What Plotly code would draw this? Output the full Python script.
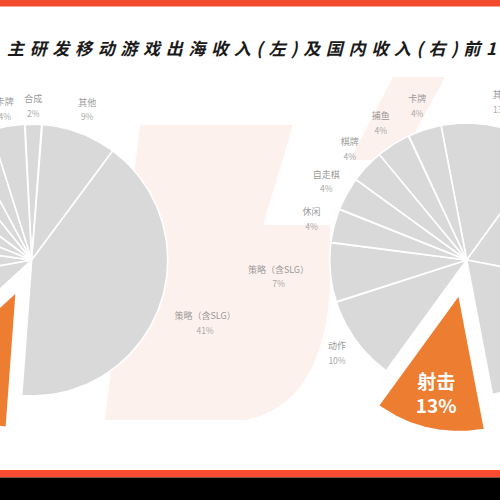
import numpy as np
import plotly.graph_objects as go

# ---------------- data ----------------
# Left pie: overseas revenue share by genre, clockwise from 12 o'clock
left_genres = ["合成", "其他", "策略（含SLG）", "射击", "角色扮演", "MOBA",
               "动作", "休闲", "模拟", "体育", "竞速", "卡牌"]
left_share = [2, 9, 41, 12, 9, 5, 4, 4, 4, 3, 3, 4]

# Right pie: domestic revenue share by genre, clockwise from 12 o'clock
right_genres = ["其他", "MOBA", "角色扮演", "射击", "动作", "策略（含SLG）",
                "休闲", "自走棋", "棋牌", "捕鱼", "卡牌"]
right_share = [13, 18, 19, 13, 10, 7, 4, 4, 4, 4, 4]

highlight_genre = "射击"
title_text = "主研发移动游戏出海收入(左)及国内收入(右)前1"

# ---------------- styles ----------------
GREY = "#d9d9d9"
ORANGE = "#ED7D31"
RED = "#F24B2D"
PINK = "#FDF1ED"
NAME_COL = "#9a9a9a"
PCT_COL = "#a8a8a8"
FONT = "Noto Sans CJK SC"

fig = go.Figure()


def draw_pie(cx, cy, R, start_deg, genres, shares, pull=0.26, label_r=None):
    label_r = label_r or {}
    total = float(sum(shares))
    cum = np.concatenate([[0.0], np.cumsum(shares)]) / total * 360.0 + start_deg
    name_x, name_y, pct_x, pct_y, names, pcts = [], [], [], [], [], []
    hx, hy, htxt = [], [], []
    for i, (g, v) in enumerate(zip(genres, shares)):
        a0, a1 = cum[i], cum[i + 1]
        mid = np.radians((a0 + a1) / 2)
        is_hi = g == highlight_genre
        off = pull * R if is_hi else 0.0
        ox, oy = cx + off * np.sin(mid), cy - off * np.cos(mid)
        ang = np.radians(np.linspace(a0, a1, 120))
        xs = np.concatenate([[ox], ox + R * np.sin(ang), [ox]])
        ys = np.concatenate([[oy], oy - R * np.cos(ang), [oy]])
        fig.add_trace(go.Scatter(
            x=xs, y=ys, fill="toself", mode="lines",
            fillcolor=ORANGE if is_hi else GREY,
            line=dict(color="white", width=1.6),
            hoverinfo="skip", showlegend=False))
        if is_hi:
            rr = (pull + 0.76) * R
            lx, ly = cx + rr * np.sin(mid), cy - rr * np.cos(mid)
            if 0 <= lx <= 500:
                hx.append(lx); hy.append(ly)
                htxt.append(f"{g}<br>{v}%")
        else:
            k = label_r.get(g, 1.38 if g.startswith("策略") else 1.17)
            rr = k * R
            lx, ly = cx + rr * np.sin(mid), cy - rr * np.cos(mid)
            if -12 <= lx <= 512 and 0 <= ly <= 500:
                name_x.append(lx); name_y.append(ly - 7.5); names.append(g)
                pct_x.append(lx); pct_y.append(ly + 7.5); pcts.append(f"{v}%")
    fig.add_trace(go.Scatter(x=name_x, y=name_y, text=names, mode="text",
                             textfont=dict(family=FONT, size=9, color=NAME_COL),
                             hoverinfo="skip", showlegend=False))
    fig.add_trace(go.Scatter(x=pct_x, y=pct_y, text=pcts, mode="text",
                             textfont=dict(family=FONT, size=8.5, color=PCT_COL),
                             hoverinfo="skip", showlegend=False))
    if hx:
        fig.add_trace(go.Scatter(x=hx, y=hy, text=htxt, mode="text",
                                 textfont=dict(family=FONT, size=19, color="white", weight="bold"),
                                 hoverinfo="skip", showlegend=False))


draw_pie(31.7, 260, 136, -3.0, left_genres, left_share,
         label_r={"合成": 1.12, "卡牌": 1.12, "策略（含SLG）": 1.36})
draw_pie(466.7, 260, 137, -10.8, right_genres, right_share)

shapes = [
    # faint background decoration
    dict(type="path", xref="x", yref="y", layer="below", line=dict(width=0), fillcolor=PINK,
         path="M 140 125 L 293 125 L 263 225 L 330 225 L 330 290 Q 322 405 245 420 L 105 420 Z"),
    dict(type="path", xref="x", yref="y", layer="below", line=dict(width=0), fillcolor=PINK,
         path="M 393 77 L 445 77 L 400 160 L 350 160 Z"),
    # top and bottom bars
    dict(type="rect", xref="x", yref="y", x0=0, x1=500, y0=0, y1=6.5,
         fillcolor=RED, line=dict(width=0), layer="above"),
    dict(type="rect", xref="x", yref="y", x0=0, x1=500, y0=470, y1=477.5,
         fillcolor="#FF4B30", line=dict(width=0), layer="above"),
    dict(type="rect", xref="x", yref="y", x0=0, x1=500, y0=477.5, y1=500,
         fillcolor="#000000", line=dict(width=0), layer="above"),
]

spaced_title = "\u2004".join(list(title_text))

fig.update_layout(
    width=500, height=500,
    margin=dict(l=0, r=0, t=0, b=0),
    paper_bgcolor="white", plot_bgcolor="white",
    hovermode=False,
    xaxis=dict(range=[0, 500], visible=False, fixedrange=True),
    yaxis=dict(range=[500, 0], visible=False, fixedrange=True),
    shapes=shapes,
    annotations=[dict(
        x=251, y=47, xref="x", yref="y", showarrow=False,
        text=f"<b><i>{spaced_title}</i></b>",
        font=dict(family=FONT, size=17, color="#1a1a1a"),
        xanchor="center", yanchor="middle")],
)

fig.write_html("out.html",
               config={"displayModeBar": False, "staticPlot": True},
               post_script="document.body.style.margin='0';document.body.style.padding='0';")
